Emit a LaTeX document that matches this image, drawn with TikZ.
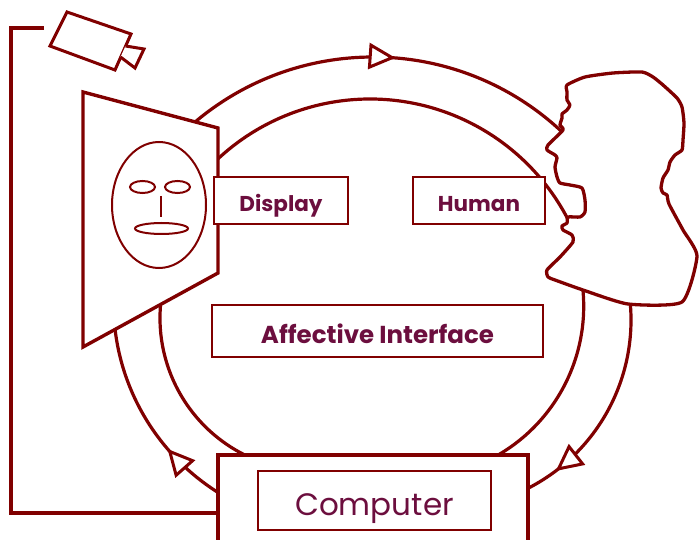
\documentclass[tikz,border=0pt]{standalone}
\usepackage{fontspec}
\setmainfont{Poppins}
\usetikzlibrary{decorations.markings}

\definecolor{wine}{RGB}{128,0,0}
\definecolor{ink}{RGB}{108,14,62}

\tikzset{
  flow/.style={draw=wine, line width=3.2pt},
  thick line/.style={draw=wine, line width=3.4pt, line join=miter},
  facestroke/.style={draw=wine, line width=2pt},
  labelbox/.style={draw=wine, line width=2.6pt, fill=white, inner sep=0pt,
                   text=ink, text depth=0pt},
  tipat/.style={postaction={decorate}, decoration={markings,
      mark=at position #1 with {\draw[wine, line width=3pt, fill=white]
        (0,0) -- (-22,11) -- (-22,-11) -- cycle;}}},
}

\begin{document}
\begin{tikzpicture}[x=1pt, y=-1pt]
  % page area
  \path[fill=white, use as bounding box] (0,0) rectangle (699,540);

  % end points of the loop arcs on the shapes they join
  \coordinate (otopA)   at ([shift={(373,333)}]-131:276);
  \coordinate (oleftA)  at ([shift={(337.5,303)}]120:224);
  \coordinate (orightA) at ([shift={(442,320)}]-8:189);
  \coordinate (itopA)   at ([shift={(370,322)}]-135:223);
  \coordinate (ileftA)  at ([shift={(313,318)}]114:153);
  \coordinate (irightA) at ([shift={(411.7,306.3)}]-8:172);

  % outer loop: display -> human -> computer -> display
  \draw[flow, tipat=0.52] (otopA) arc[start angle=-131, end angle=-44.5, radius=276];
  \draw[flow, tipat=0.81] (orightA) arc[start angle=-8, end angle=66, radius=189];
  \draw[flow, tipat=0.33] (oleftA) arc[start angle=120, end angle=176, radius=224];

  % inner loop
  \draw[flow] (itopA) arc[start angle=-135, end angle=-25, radius=223];
  \draw[flow] (irightA) arc[start angle=-8, end angle=62, radius=172];
  \draw[flow] (ileftA) arc[start angle=114, end angle=188, radius=153];

  % cable from the camera to the computer
  \coordinate (camwire) at (44,28);
  \coordinate (wireA) at (11,28);
  \coordinate (wireB) at (11,513);
  \coordinate (compin) at (218,513);
  \draw[thick line] (camwire) -- (wireA) -- (wireB) -- (compin);

  % camera
  \draw[thick line, line width=3pt, fill=white]
    (67,12) -- (131,34) -- (115,70) -- (50,46) -- cycle;
  \draw[thick line, line width=3pt, fill=white]
    (125.5,46) -- (144,49) -- (135,68) -- (120.5,57);

  % display screen with a face
  \draw[thick line, fill=white] (83,92) -- (218,128) -- (218,273) -- (83,347) -- cycle;
  \draw[facestroke] (159,205) ellipse[x radius=47, y radius=63];
  \draw[facestroke] (142.5,187) ellipse[x radius=12.5, y radius=6];
  \draw[facestroke] (177.5,187) ellipse[x radius=12.5, y radius=6];
  \draw[facestroke] (160.7,196) -- (160.7,217);
  \draw[facestroke] (161.5,228.5) ellipse[x radius=26.5, y radius=5.5];

  % computer
  \fill[white] (218,455) rectangle (528,541);
  \draw[thick line] (218,541) -- (218,455) -- (528,455) -- (528,541);
  \node[labelbox, font=\fontsize{31}{34}\selectfont, text height=29pt,
        minimum width=233pt, minimum height=59pt] (computer) at (374.5,500.5) {Computer};

  % human head in profile
  \draw[wine, line width=3.3pt, fill=white, line join=round]
    plot[smooth cycle, tension=0.35] coordinates {
      (567,85) (585,77) (613,73) (642,72) (653,77) (663,85) (677,98)
      (682,107) (684,123) (683,140) (682,150) (675,155) (670,162)
      (668,170) (663,178) (661,188) (663,193) (667,195) (669,204)
      (683,230) (697,256) (682,302) (628,304) (583,290) (555,280)
      (548,277) (547,270) (560,257) (573,242) (572,235) (563,230)
      (562,226) (567,223) (568,217) (580,217) (585,212) (585,200)
      (582,188) (570,185) (560,183) (557,177) (555,167) (557,158)
      (555,155) (547,150) (548,145) (563,130) (560,125) (562,118)
      (562,114) (567,110) (570,105) (567,100) (567,92)};

  % labels
  \node[labelbox, font=\bfseries\fontsize{21.5}{24}\selectfont, text height=23pt,
        minimum width=134pt, minimum height=47pt] (display) at (281,200.5) {Display};
  \node[labelbox, font=\bfseries\fontsize{21.5}{24}\selectfont, text height=23pt,
        minimum width=132pt, minimum height=47pt] (human) at (479,200.5) {Human};
  \node[labelbox, font=\bfseries\fontsize{24.5}{28}\selectfont, text height=24pt,
        minimum width=331pt, minimum height=52pt] (affective) at (377.5,331) {Affective Interface};
\end{tikzpicture}
\end{document}
